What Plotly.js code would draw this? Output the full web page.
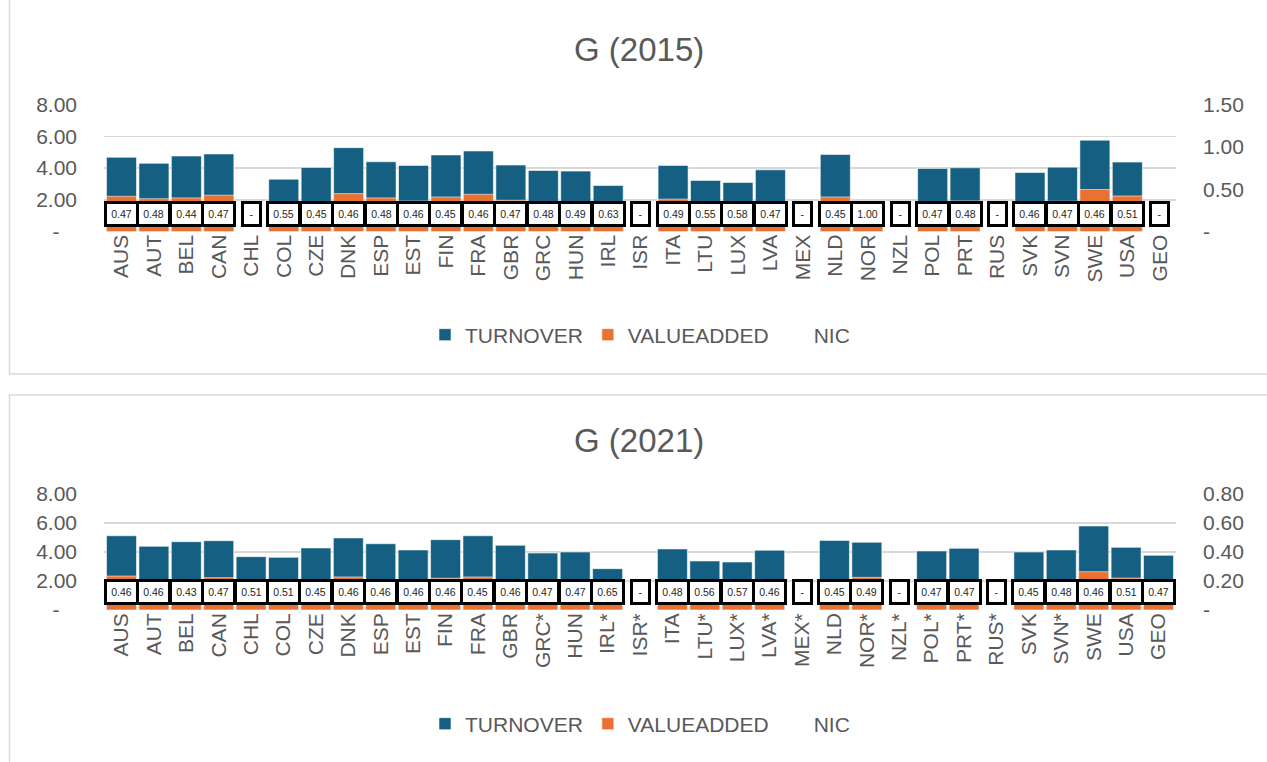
<!DOCTYPE html>
<html><head><meta charset="utf-8">
<script src="https://cdn.plot.ly/plotly-3.0.1.min.js"></script>
<style>html,body{margin:0;padding:0;background:#fff;} #chart{width:1267px;height:762px;}</style>
</head><body><div id="chart"></div>
<script>
const categories2015 = ['AUS','AUT','BEL','CAN','CHL','COL','CZE','DNK','ESP','EST','FIN','FRA','GBR','GRC','HUN','IRL','ISR','ITA','LTU','LUX','LVA','MEX','NLD','NOR','NZL','POL','PRT','RUS','SVK','SVN','SWE','USA','GEO'];
const turnover2015 = [4.68,4.30,4.76,4.89,null,3.30,4.04,5.29,4.40,4.17,4.83,5.08,4.19,3.85,3.81,2.90,null,4.17,3.22,3.09,3.89,null,4.86,1.60,null,3.98,4.02,null,3.72,4.06,5.76,4.38,null];
const valueadded2015 = [2.22,2.07,2.12,2.29,null,1.82,1.82,2.39,2.12,1.92,2.18,2.35,1.97,1.85,1.87,1.83,null,2.04,1.77,1.79,1.83,null,2.18,1.60,null,1.87,1.93,null,1.71,1.91,2.65,2.24,null];
const nic2015 = [0.47,0.48,0.44,0.47,null,0.55,0.45,0.46,0.48,0.46,0.45,0.46,0.47,0.48,0.49,0.63,null,0.49,0.55,0.58,0.47,null,0.45,1.00,null,0.47,0.48,null,0.46,0.47,0.46,0.51,null];

const categories2021 = ['AUS','AUT','BEL','CAN','CHL','COL','CZE','DNK','ESP','EST','FIN','FRA','GBR','GRC*','HUN','IRL*','ISR*','ITA','LTU*','LUX*','LVA*','MEX*','NLD','NOR*','NZL*','POL*','PRT*','RUS*','SVK','SVN*','SWE','USA','GEO'];
const turnover2021 = [5.12,4.39,4.71,4.78,3.68,3.63,4.28,4.97,4.57,4.14,4.85,5.12,4.46,3.93,4.00,2.85,null,4.21,3.38,3.31,4.12,null,4.80,4.67,null,4.07,4.25,null,4.00,4.14,5.79,4.32,3.77];
const valueadded2021 = [2.34,2.02,2.03,2.23,1.88,1.85,1.93,2.28,2.10,1.90,2.19,2.28,2.05,1.85,1.88,1.85,null,2.02,1.89,1.89,1.90,null,2.05,2.25,null,1.91,2.00,null,1.80,1.99,2.64,2.20,1.77];
const nic2021 = [0.46,0.46,0.43,0.47,0.51,0.51,0.45,0.46,0.46,0.46,0.46,0.45,0.46,0.47,0.47,0.65,null,0.48,0.56,0.57,0.46,null,0.45,0.49,null,0.47,0.47,null,0.45,0.48,0.46,0.51,0.47];

const leftTicks = [0,2,4,6,8];
const rightTicks2015 = [0,0.5,1,1.5];
const rightTicks2021 = [0,0.2,0.4,0.6,0.8];

const BLUE = '#156082', ORANGE = '#E97132', GRID = '#d9d9d9', TXT = '#595959';
const FONT = 'Liberation Sans, Arial, sans-serif';
const fmt = v => v === 0 ? '-' : v.toFixed(2);
const W = 1267, H = 762;
const px = v => v / W, py = v => 1 - v / H;

function traces(cats, to, va, nic, xa, ya, yb, leg) {
  return [
    {type:'bar', name:'TURNOVER', x:cats, y:to, xaxis:xa, yaxis:ya, legend:leg,
     marker:{color:BLUE, line:{color:'rgba(255,255,255,0.7)', width:0.8}}, hoverinfo:'skip'},
    {type:'bar', name:'VALUEADDED', x:cats, y:va, xaxis:xa, yaxis:ya, legend:leg,
     marker:{color:ORANGE, line:{color:'rgba(255,255,255,0.7)', width:0.8}}, hoverinfo:'skip'},
    {type:'bar', name:'NIC', x:cats, y:nic, xaxis:xa, yaxis:yb, legend:leg,
     marker:{color:'rgba(0,0,0,0)', line:{width:0}}, hoverinfo:'skip'}
  ];
}

function boxes(cats, nic, xa, ya) {
  return cats.map((c, i) => {
    const lab = nic[i] == null ? '-' : nic[i].toFixed(2);
    return {x:c, y:0, xref:xa, yref:ya, yanchor:'bottom', yshift:5, showarrow:false,
      text:lab, bgcolor:'#ffffff', bordercolor:'#000000', borderwidth:3, borderpad:1,
      width: lab === '-' ? 13 : 27, height:18,
      font:{family:FONT, size:10.5, color:'#262626'}};
  });
}

const data = [
  ...traces(categories2015, turnover2015, valueadded2015, nic2015, 'x', 'y', 'y2', 'legend'),
  ...traces(categories2021, turnover2021, valueadded2021, nic2021, 'x2', 'y3', 'y4', 'legend2')
];

const xdom = [px(104), px(1176)];
const tickfont = {family:FONT, size:21, color:TXT};
const leftAxis = (dom) => ({domain:dom, range:[0,8], tickvals:leftTicks,
  ticktext:leftTicks.map(v => v === 0 ? '-\u00a0\u00a0\u00a0' : fmt(v)),
  showgrid:true, gridcolor:GRID, gridwidth:1.4, zeroline:false, showline:false,
  tickfont:tickfont, ticklabelstandoff:26, fixedrange:true});
const rightAxis = (ov, ticks) => ({overlaying:ov, side:'right', range:[0, ticks[ticks.length-1]],
  tickvals:ticks, ticktext:ticks.map(fmt), showgrid:false, zeroline:false, showline:false,
  tickfont:tickfont, ticklabelstandoff:26, fixedrange:true});
const xAxis = (anchor) => ({domain:xdom, anchor:anchor, type:'category', tickangle:-90,
  tickfont:tickfont, showgrid:false, showline:false, zeroline:false, ticks:'', ticklabelstandoff:-2, fixedrange:true});

const titleFont = {family:FONT, size:33, color:TXT};
const legFont = {family:FONT, size:21, color:TXT};

const layout = {
  width:W, height:H, margin:{l:0,r:0,t:0,b:0}, paper_bgcolor:'#ffffff', plot_bgcolor:'rgba(0,0,0,0)',
  barmode:'overlay', bargap:0.075, showlegend:true,
  xaxis:xAxis('y'), yaxis:leftAxis([py(231.5), py(104.7)]), yaxis2:rightAxis('y', rightTicks2015),
  xaxis2:xAxis('y3'), yaxis3:leftAxis([py(610), py(494)]), yaxis4:rightAxis('y3', rightTicks2021),
  legend:{orientation:'h', x:px(640), xanchor:'center', y:py(335), yanchor:'middle', font:legFont, bgcolor:'rgba(0,0,0,0)', traceorder:'normal'},
  legend2:{orientation:'h', x:px(640), xanchor:'center', y:py(724), yanchor:'middle', font:legFont, bgcolor:'rgba(0,0,0,0)', traceorder:'normal'},
  annotations:[
    {text:'G (2015)', xref:'paper', yref:'paper', x:px(639), y:py(50), xanchor:'center', yanchor:'middle', showarrow:false, font:titleFont},
    {text:'G (2021)', xref:'paper', yref:'paper', x:px(639), y:py(440), xanchor:'center', yanchor:'middle', showarrow:false, font:titleFont},
    ...boxes(categories2015, nic2015, 'x', 'y'),
    ...boxes(categories2021, nic2021, 'x2', 'y3')
  ],
  shapes:[
    {type:'rect', xref:'paper', yref:'paper', x0:px(9.5), x1:1.02, y0:py(374), y1:1.02, line:{color:GRID, width:1.5}, layer:'below'},
    {type:'rect', xref:'paper', yref:'paper', x0:px(9.5), x1:1.02, y0:-0.02, y1:py(395), line:{color:GRID, width:1.5}, layer:'below'}
  ]
};

Plotly.newPlot('chart', data, layout, {displayModeBar:false, staticPlot:true});
</script></body></html>
